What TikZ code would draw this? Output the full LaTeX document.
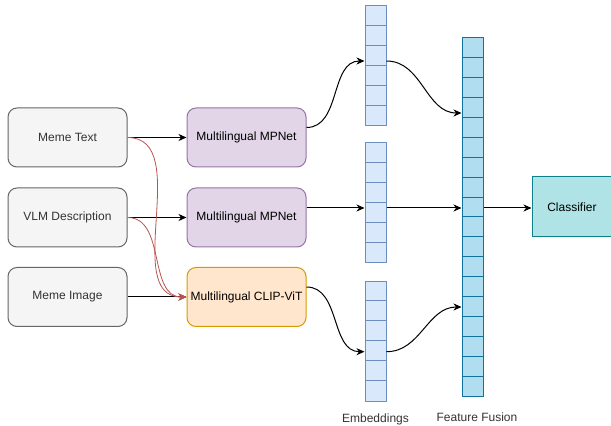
\documentclass[tikz,border=0pt]{standalone}
\usepackage{fontspec}
\setmainfont{Liberation Sans}
\usetikzlibrary{arrows.meta,calc}
\definecolor{grayfill}{HTML}{F5F5F5}
\definecolor{graystroke}{HTML}{666666}
\definecolor{graytext}{HTML}{333333}
\definecolor{purfill}{HTML}{E1D5E7}
\definecolor{purstroke}{HTML}{9673A6}
\definecolor{orfill}{HTML}{FFE6CC}
\definecolor{orstroke}{HTML}{D79B00}
\definecolor{embfill}{HTML}{DAE8FC}
\definecolor{embstroke}{HTML}{6C8EBF}
\definecolor{fusfill}{HTML}{B1DDF0}
\definecolor{fusstroke}{HTML}{10739E}
\definecolor{clsfill}{HTML}{B0E3E6}
\definecolor{clsstroke}{HTML}{0E8088}
\definecolor{redline}{HTML}{B85450}
\begin{document}
\begin{tikzpicture}[x=1pt,y=1pt,
  txt/.style={font=\fontsize{12}{14}\selectfont, inner sep=0pt},
  box/.style={txt, rounded corners=9pt, minimum width=119pt, minimum height=59pt, line width=1pt},
  inbox/.style={box, fill=grayfill, draw=graystroke, text=graytext},
  mpbox/.style={box, fill=purfill, draw=purstroke},
  clipbox/.style={box, fill=orfill, draw=orstroke},
  embcol/.style={fill=embfill, draw=embstroke, line width=1pt, minimum width=21pt, minimum height=120pt, inner sep=0pt},
  fuscol/.style={fill=fusfill, draw=fusstroke, line width=1pt, minimum width=21pt, minimum height=359pt, inner sep=0pt},
  clsbox/.style={txt, fill=clsfill, draw=clsstroke, line width=1pt, minimum width=80pt, minimum height=60pt},
  arr/.style={-{Stealth[length=8pt,width=7pt,inset=2.5pt]}, line width=1pt},
  redarr/.style={arr, draw=redline, line width=0.8pt},
]
\useasboundingbox (0,0) rectangle (611,426);

% input boxes
\node[inbox] (mt) at (67.5,288.5) {Meme Text};
\node[inbox] (vlm) at (67.5,208.5) {VLM Description};
\node[inbox] (mi) at (67.5,129) {Meme Image};

% encoders
\node[mpbox] (mp1) at (246.5,288.5) {Multilingual MPNet};
\node[mpbox] (mp2) at (246.5,208.5) {Multilingual MPNet};
\node[clipbox] (clip) at (246.5,129) {Multilingual CLIP-ViT};

% embedding columns
\node[embcol] (c1) at (375.5,360) {};
\node[embcol] (c2) at (375.5,223) {};
\node[embcol] (c3) at (375.5,84.5) {};
\foreach \c in {c1,c2,c3}{
  \foreach \i in {1,...,5}{
    \draw[embstroke, line width=1pt] ($(\c.north west)+(0,-20*\i)$) -- ($(\c.north east)+(0,-20*\i)$);
  }
}

% fusion column
\node[fuscol] (fus) at (472.5,208.5) {};
\foreach \i in {1,...,17}{
  \draw[fusstroke, line width=1pt] ($(fus.north west)+(0,-19.94*\i)$) -- ($(fus.north east)+(0,-19.94*\i)$);
}

% classifier
\node[clsbox] (cls) at (572,219) {Classifier};

% labels
\node[txt, text=graytext] (lemb) at (375.5,7) {Embeddings};
\node[txt, text=graytext] (lfus) at (477,9) {Feature Fusion};

% ports
\coordinate (mp1o) at ($(mp1.east)+(0,10)$);
\coordinate (c1i) at ($(c1.west)+(0,5)$);
\coordinate (c1o) at ($(c1.east)+(0,5)$);
\coordinate (f1) at ($(fus.west)+(0,104.5)$);
\coordinate (mp2o) at ($(mp2.east)+(0,9.5)$);
\coordinate (c2i) at ($(c2.west)+(0,-5)$);
\coordinate (c2o) at ($(c2.east)+(0,-5)$);
\coordinate (f2) at ($(fus.west)+(0,9.5)$);
\coordinate (f2o) at ($(fus.east)+(0,9.5)$);
\coordinate (cli) at (cls.west |- f2o);
\coordinate (clipo) at ($(clip.east)+(0,10)$);
\coordinate (c3i) at ($(c3.west)+(0,-10.2)$);
\coordinate (c3o) at ($(c3.east)+(0,-10.2)$);
\coordinate (f3) at ($(fus.west)+(0,-89.5)$);

% input arrows
\draw[arr] (mt.east) -- (mp1.west);
\draw[arr] (vlm.east) -- (mp2.west);
\draw[arr] (mi.east) -- (clip.west);
\draw[redarr] (mt.east) to[out=0,in=180] (clip.west);
\draw[redarr] (vlm.east) to[out=0,in=180] (clip.west);

% encoder to embeddings
\draw[arr] (mp1o) to[out=0,in=180] (c1i);
\draw[arr] (mp2o) -- (c2i);
\draw[arr] (clipo) to[out=0,in=180] (c3i);

% embeddings to fusion
\draw[arr] (c1o) to[out=0,in=180] (f1);
\draw[arr] (c2o) -- (f2);
\draw[arr] (c3o) to[out=0,in=180] (f3);

% fusion to classifier
\draw[arr] (f2o) -- (cli);
\end{tikzpicture}
\end{document}
